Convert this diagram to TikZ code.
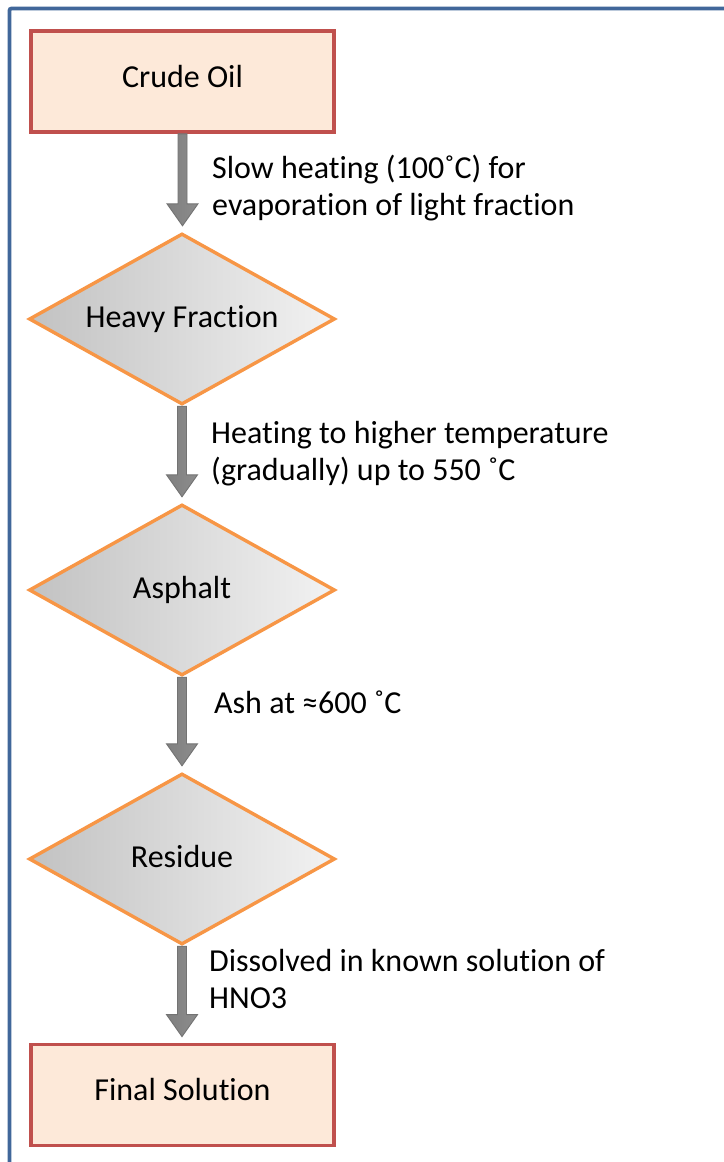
\documentclass[tikz,border=0pt]{standalone}
\usepackage{fontspec}
\setmainfont{Carlito}[Ligatures=NoCommon]
\usetikzlibrary{shapes.geometric,calc}
\definecolor{framecol}{HTML}{41679A}
\definecolor{boxline}{HTML}{C0504D}
\definecolor{boxfill}{HTML}{FDE9D9}
\definecolor{diaLine}{HTML}{F79646}
\tikzset{
  procbox/.style={draw=boxline, line width=3.8pt, fill=boxfill, minimum width=303pt, minimum height=101pt,
    inner sep=0pt, text height=21pt, text depth=10pt, font=\fontsize{32}{38}\selectfont},
  decbox/.style={diamond, draw=diaLine, line width=3.4pt, left color=black!24, right color=black!5,
    minimum width=306pt, minimum height=171pt, shape aspect=1.8, inner sep=0pt,
    text height=21pt, text depth=5pt, font=\fontsize{32}{38}\selectfont},
  steplabel/.style={anchor=base west, align=left, inner sep=0pt, font=\fontsize{32}{36.5}\selectfont},
  flowshape/.style={draw=black!55, line width=0.9pt, left color=black!50, middle color=black!15, right color=black!45}
}
\newcommand{\flowarrow}[2]{%
  \path[flowshape] let \p1=(#1.south), \p2=(#2.north) in
    (\x1-4.5pt,\y1) -- (\x1-4.5pt,\y2+28pt) -- (\x1-15.5pt,\y2+28pt) -- (\x1,\y2+6pt)
    -- (\x1+15.5pt,\y2+28pt) -- (\x1+4.5pt,\y2+28pt) -- (\x1+4.5pt,\y1) -- cycle;}
\begin{document}
\begin{tikzpicture}[x=1pt,y=-1pt]
\useasboundingbox (0,0) rectangle (723,1162);
\fill[white] (0,0) rectangle (723,1162);
% outer frame
\draw[framecol, line width=3.8pt, rounded corners=2pt] (9.5,1175) -- (9.5,8.5) -- (740,8.5);
% nodes
\node[procbox] (crude) at (182.5,81.5) {Crude Oil};
\node[decbox] (heavy) at (182,319) {Heavy Fraction};
\node[decbox] (asph) at (182,590) {Asphalt};
\node[decbox] (resid) at (182,859) {Residue};
\node[procbox] (final) at (182.5,1095) {Final Solution};
% connectors
\flowarrow{crude}{heavy}
\flowarrow{heavy}{asph}
\flowarrow{asph}{resid}
\flowarrow{resid}{final}
% labels
\node[steplabel] (l1) at (212,215) {Slow heating (100˚C) for\\evaporation of light fraction};
\node[steplabel] (l2) at (211,480) {Heating to higher temperature\\(gradually) up to 550 ˚C};
\node[steplabel] (l3) at (214,713) {Ash at ≈600 ˚C};
\node[steplabel] (l4) at (209,1008) {Dissolved in known solution of\\HNO3};
\end{tikzpicture}
\end{document}
